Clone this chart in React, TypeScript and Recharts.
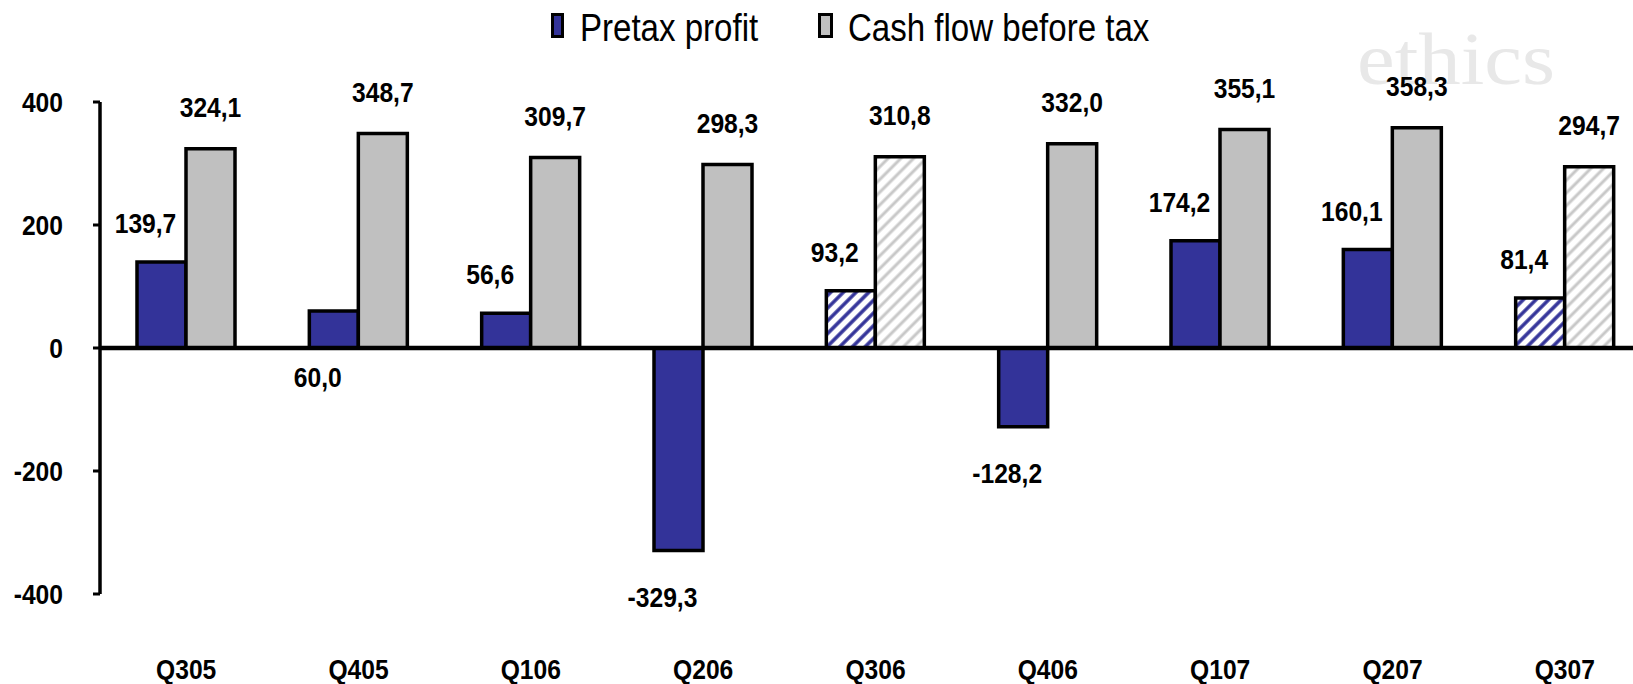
import React from 'react';
import { BarChart, Bar, XAxis, YAxis, Cell, LabelList, ReferenceLine } from 'recharts';

const categories = ['Q305', 'Q405', 'Q106', 'Q206', 'Q306', 'Q406', 'Q107', 'Q207', 'Q307'];
const pretaxProfit = [139.7, 60.0, 56.6, -329.3, 93.2, -128.2, 174.2, 160.1, 81.4];
const cashFlowBeforeTax = [324.1, 348.7, 309.7, 298.3, 310.8, 332.0, 355.1, 358.3, 294.7];
// quarters drawn hatched (estimates)
const forecastQuarters = ['Q306', 'Q307'];
// quarters whose profit label sits under the zero line
const profitLabelBelow = ['Q405'];
const yTicks = [-400, -200, 0, 200, 400];

const data = categories.map((quarter, i) => ({
  quarter,
  profit: pretaxProfit[i],
  cash: cashFlowBeforeTax[i],
}));

// no Arial Narrow here, so squeeze Liberation Sans horizontally
const FONT = '"Liberation Sans", Arial, sans-serif';
const SQUEEZE = 0.88;
const BLUE = '#333399';
const GREY = '#c0c0c0';

const fmt = (v: number) => v.toFixed(1).replace('.', ',');

const NarrowText = ({ x, y, anchor = 'middle', size = 28, bold = true, squeeze = SQUEEZE, children }: any) => (
  <text
    transform={`translate(${x},${y}) scale(${squeeze},1)`}
    textAnchor={anchor}
    style={{ fontFamily: FONT, fontSize: size, fontWeight: bold ? 700 : 400, fill: '#000' }}
  >
    {children}
  </text>
);

const ProfitLabel = (props: any) => {
  const { x, y, width, height, value, index } = props;
  const top = Math.min(y, y + height);
  const bottom = Math.max(y, y + height);
  let ty = top - 29;
  if (value < 0) ty = bottom + 56;
  else if (profitLabelBelow.includes(categories[index])) ty = bottom + 39;
  return <NarrowText x={x + width / 2 - 16} y={ty}>{fmt(value)}</NarrowText>;
};

const CashLabel = (props: any) => {
  const { x, y, width, height, value } = props;
  const top = Math.min(y, y + height);
  return <NarrowText x={x + width / 2} y={top - 32}>{fmt(value)}</NarrowText>;
};

const QuarterTick = (props: any) => {
  const { x, y, payload } = props;
  return <NarrowText x={x} y={y + 77}>{payload.value}</NarrowText>;
};

const ValueTick = (props: any) => {
  const { x, y, payload } = props;
  return <NarrowText x={x} y={y + 10} anchor="end">{payload.value}</NarrowText>;
};

export default function App() {
  return (
    <div style={{ position: 'absolute', left: 0, top: 0, width: 1633, height: 684, overflow: 'hidden', background: '#fff' }}>
      <svg width={1633} height={684} style={{ position: 'absolute', left: 0, top: 0 }}>
        <defs>
          <pattern id="hatchBlue" patternUnits="userSpaceOnUse" width={9} height={9} patternTransform="rotate(45)">
            <rect width={9} height={9} fill="#fff" />
            <line x1={2} y1={0} x2={2} y2={9} stroke={BLUE} strokeWidth={3.5} />
          </pattern>
          <pattern id="hatchGrey" patternUnits="userSpaceOnUse" width={9} height={9} patternTransform="rotate(45)">
            <rect width={9} height={9} fill="#fff" />
            <line x1={2} y1={0} x2={2} y2={9} stroke="#c8c8c8" strokeWidth={3} />
          </pattern>
        </defs>
        <text x={1357} y={84} textLength={198} lengthAdjust="spacingAndGlyphs" style={{ fontFamily: '"Liberation Serif", serif', fontSize: 74, fill: '#e8e8e8' }}>
          ethics
        </text>
        <rect x={552.5} y={14.5} width={10} height={22} fill={BLUE} stroke="#000" strokeWidth={3} />
        <NarrowText x={580} y={41} anchor="start" size={38} bold={false} squeeze={0.87}>Pretax profit</NarrowText>
        <rect x={819.5} y={14.5} width={12} height={22} fill={GREY} stroke="#000" strokeWidth={3} />
        <NarrowText x={848} y={41} anchor="start" size={38} bold={false} squeeze={0.87}>Cash flow before tax</NarrowText>
      </svg>
      <div style={{ position: 'absolute', left: 0, top: 0 }}>
        <BarChart
          width={1660}
          height={684}
          data={data}
          margin={{ top: 102, right: 9, bottom: 0, left: 0 }}
          barGap={0}
        >
          <XAxis dataKey="quarter" axisLine={false} tickLine={false} height={90} tick={<QuarterTick />} interval={0} />
          <YAxis
            domain={[-400, 400]}
            ticks={yTicks}
            width={100}
            axisLine={{ stroke: '#000', strokeWidth: 3.5 }}
            tickLine={{ stroke: '#000', strokeWidth: 3 }}
            tickSize={7}
            tickMargin={30}
            tick={<ValueTick />}
          />
          <Bar dataKey="profit" fill={BLUE} stroke="#000" strokeWidth={3.5} barSize={49} isAnimationActive={false}>
            {data.map((d) => (
              <Cell key={d.quarter} fill={forecastQuarters.includes(d.quarter) ? 'url(#hatchBlue)' : BLUE} />
            ))}
            <LabelList dataKey="profit" content={<ProfitLabel />} />
          </Bar>
          <Bar dataKey="cash" fill={GREY} stroke="#000" strokeWidth={3.5} barSize={49} isAnimationActive={false}>
            {data.map((d) => (
              <Cell key={d.quarter} fill={forecastQuarters.includes(d.quarter) ? 'url(#hatchGrey)' : GREY} />
            ))}
            <LabelList dataKey="cash" content={<CashLabel />} />
          </Bar>
          <ReferenceLine y={0} stroke="#000" strokeWidth={4.5} />
        </BarChart>
      </div>
    </div>
  );
}
